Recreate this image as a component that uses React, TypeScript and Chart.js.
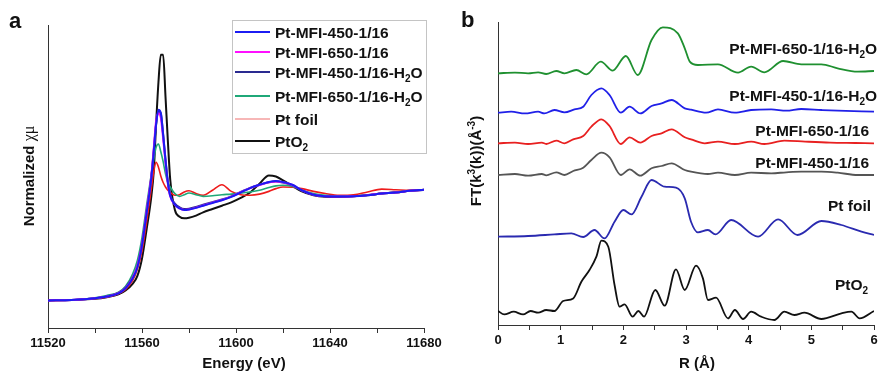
import { useEffect, useRef } from 'react';
import { Chart, registerables } from 'chart.js';
Chart.register(...registerables);

const FONT = '"Liberation Sans", Arial, Helvetica, sans-serif';

// ---------------- Panel a : XANES ----------------
const panelA = 'a';
const titleAx = 'Energy (eV)';
const titleAy = 'Normalized χμ';
const energy = [11520, 11530, 11540, 11545, 11550, 11553, 11556, 11558, 11560, 11562, 11564, 11565, 11566, 11567, 11568, 11569, 11570, 11571, 11572, 11574, 11576, 11578, 11580, 11583, 11586, 11590, 11594, 11598, 11602, 11606, 11610, 11614, 11617, 11620, 11624, 11628, 11633, 11638, 11644, 11650, 11656, 11662, 11668, 11674, 11680];
const xan450 = [0, 0.005, 0.02, 0.035, 0.065, 0.11, 0.2, 0.3, 0.5, 0.8, 1.12, 1.35, 1.6, 1.73, 1.7, 1.5, 1.27, 1.07, 0.95, 0.87, 0.835, 0.82, 0.825, 0.84, 0.86, 0.885, 0.91, 0.94, 0.98, 1.02, 1.05, 1.075, 1.084, 1.075, 1.05, 1.0, 0.96, 0.945, 0.943, 0.945, 0.955, 0.97, 0.98, 0.995, 1.005];
const xan650 = [0, 0.005, 0.02, 0.035, 0.066, 0.112, 0.205, 0.31, 0.51, 0.82, 1.14, 1.38, 1.63, 1.70, 1.66, 1.47, 1.25, 1.06, 0.945, 0.868, 0.835, 0.822, 0.826, 0.842, 0.862, 0.887, 0.912, 0.942, 0.982, 1.02, 1.048, 1.072, 1.08, 1.072, 1.048, 1.0, 0.96, 0.946, 0.944, 0.946, 0.956, 0.97, 0.98, 0.995, 1.004];
const xan450w = [0, 0.005, 0.021, 0.037, 0.068, 0.115, 0.21, 0.31, 0.51, 0.81, 1.13, 1.36, 1.6, 1.72, 1.7, 1.51, 1.28, 1.08, 0.96, 0.88, 0.845, 0.83, 0.833, 0.848, 0.868, 0.892, 0.916, 0.945, 0.984, 1.022, 1.05, 1.073, 1.08, 1.07, 1.045, 0.998, 0.96, 0.946, 0.944, 0.946, 0.956, 0.97, 0.981, 0.995, 1.004];
const xan650w = [0, 0.006, 0.025, 0.045, 0.075, 0.13, 0.24, 0.36, 0.57, 0.87, 1.15, 1.28, 1.39, 1.42, 1.35, 1.26, 1.15, 1.07, 1.03, 0.97, 0.945, 0.96, 0.975, 0.96, 0.945, 0.95, 0.96, 0.965, 0.975, 0.985, 1.0, 1.025, 1.04, 1.045, 1.035, 1.0, 0.97, 0.955, 0.948, 0.948, 0.958, 0.972, 0.983, 0.995, 1.0];
const xanFoil = [0, 0.004, 0.018, 0.032, 0.06, 0.1, 0.18, 0.28, 0.45, 0.72, 1.02, 1.17, 1.255, 1.21, 1.13, 1.07, 1.03, 1.0, 0.98, 0.955, 0.96, 0.985, 0.995, 0.97, 0.955, 1.0, 1.05, 0.99, 0.96, 0.955, 0.965, 0.99, 1.015, 1.03, 1.028, 1.015, 0.99, 0.97, 0.955, 0.96, 0.985, 1.01, 1.005, 1.0, 1.0];
const xanPtO2 = [0, 0.004, 0.015, 0.03, 0.055, 0.09, 0.15, 0.22, 0.38, 0.65, 0.95, 1.17, 1.6, 1.98, 2.23, 2.23, 1.85, 1.45, 1.1, 0.82, 0.76, 0.745, 0.75, 0.77, 0.8, 0.83, 0.86, 0.89, 0.93, 0.98, 1.06, 1.135, 1.125, 1.09, 1.04, 0.99, 0.955, 0.942, 0.94, 0.945, 0.955, 0.97, 0.98, 0.995, 1.005];
const namesA = ['Pt-MFI-450-1/16', 'Pt-MFI-650-1/16', 'Pt-MFI-450-1/16-H₂O', 'Pt-MFI-650-1/16-H₂O', 'Pt foil', 'PtO₂'];
const valuesA = [xan450, xan650, xan450w, xan650w, xanFoil, xanPtO2];
const colorsA = ['#1c1cf2', '#ff10ff', '#2a2a90', '#1fa878', '#ee1c1c', '#111111'];
const legendColorsA = ['#1c1cf2', '#ff10ff', '#2a2a90', '#1fa878', '#f07070', '#111111'];
const widthsA = [2, 2, 2, 1.6, 1.6, 2];
const legendRowY = [32, 52, 72, 96, 119, 141];

// ---------------- Panel b : FT-EXAFS ----------------
const panelB = 'b';
const titleBx = 'R (Å)';
const titleBy = 'FT(k³(k))(Å⁻³)';
const rGreen = [0, 0.27, 0.48, 0.64, 0.77, 0.93, 1.06, 1.25, 1.41, 1.64, 1.83, 2.04, 2.23, 2.45, 2.63, 2.87, 2.98, 3.06, 3.19, 3.51, 3.83, 4.04, 4.25, 4.55, 4.84, 5.16, 5.42, 5.74, 6.0];
const hGreen = [0, 0.07, 0, 0.1, -0.07, 0.23, 0, 0.33, -0.1, 1.17, 0.27, 1.73, -0.17, 3.33, 4.6, 4.0, 2.5, 1.17, 0.83, 0.9, 0.07, 0.67, 0.1, 1.23, 0.9, 0.9, 0.5, 0.17, 0.23];
const rBlue = [0, 0.21, 0.43, 0.64, 0.74, 0.9, 1.06, 1.22, 1.36, 1.49, 1.65, 1.78, 1.96, 2.1, 2.27, 2.45, 2.61, 2.77, 2.98, 3.08, 3.32, 3.51, 3.78, 4.04, 4.36, 4.6, 4.84, 5.16, 5.42, 6.0];
const hBlue = [0, 0.1, -0.07, 0.1, -0.07, 0.27, 0.03, 0.33, 0.6, 1.77, 2.43, 1.77, 0, 0.6, -0.07, 0.67, 0.93, 1.27, 0.43, 0.3, 0, 0.33, 0, 0.27, 0.33, 0.2, 0.37, 0.27, 0.2, 0.1];
const rRed = [0, 0.27, 0.48, 0.7, 0.77, 0.93, 1.06, 1.2, 1.36, 1.49, 1.65, 1.78, 1.96, 2.1, 2.27, 2.45, 2.61, 2.77, 2.98, 3.08, 3.3, 3.51, 3.78, 4.04, 4.25, 4.57, 4.9, 5.3, 5.7, 6.0];
const hRed = [0, 0.07, -0.07, 0.07, -0.07, 0.27, 0, 0.4, 0.73, 1.67, 2.4, 1.73, -0.07, 0.6, 0.07, 0.73, 1.0, 1.4, 0.6, 0.4, 0, 0.17, -0.07, 0.17, -0.07, 0.27, 0.17, 0.07, 0.03, 0];
const rGray = [0, 0.27, 0.48, 0.7, 0.77, 0.93, 1.06, 1.2, 1.36, 1.49, 1.65, 1.78, 1.96, 2.1, 2.27, 2.45, 2.61, 2.77, 2.98, 3.08, 3.35, 3.51, 3.78, 4.04, 4.36, 4.6, 4.84, 5.16, 5.42, 5.74, 6.0];
const hGray = [0, 0.1, -0.07, 0.1, -0.03, 0.27, 0, 0.4, 0.73, 1.5, 2.23, 1.77, 0, 0.57, -0.07, 0.67, 0.9, 1.17, 0.5, 0.33, 0.1, 0.23, 0, 0.23, 0.17, 0.27, 0.33, 0.33, 0.23, 0, 0];
const rFoil = [0, 0.48, 0.9, 1.17, 1.36, 1.54, 1.7, 1.86, 2.0, 2.13, 2.29, 2.45, 2.66, 2.84, 2.98, 3.08, 3.19, 3.35, 3.47, 3.72, 4.15, 4.47, 4.78, 5.16, 5.48, 5.8, 6.0];
const hFoil = [0, 0.07, 0.23, 0.33, -0.03, 0.67, -0.17, 1.5, 2.67, 2.23, 4.0, 5.67, 5.0, 4.9, 3.83, 1.5, 0.43, 0.67, 0.23, 1.67, 0, 1.73, 0.17, 1.57, 1.17, 0.5, 0.17];
const rPtO2 = [0, 0.1, 0.25, 0.4, 0.52, 0.64, 0.77, 0.9, 1.04, 1.2, 1.33, 1.46, 1.57, 1.65, 1.76, 1.86, 1.94, 2.02, 2.15, 2.24, 2.33, 2.51, 2.66, 2.84, 2.98, 3.16, 3.27, 3.35, 3.48, 3.67, 3.78, 3.91, 4.04, 4.2, 4.41, 4.57, 4.73, 4.89, 5.16, 5.48, 5.64, 5.77, 6.0];
const hPtO2 = [0.07, -0.27, 0, -0.27, 0.07, -0.1, 0.17, 0.07, 1.07, 1.33, 3.0, 4.17, 5.5, 7.1, 6.5, 2.67, 0.5, 0.73, -0.5, 0.07, -0.5, 2.17, 0.6, 4.23, 2.17, 4.6, 3.33, 1.17, 1.4, -0.67, 0.17, -0.73, 0, -0.5, -0.83, 0, -0.33, -0.1, -0.73, -0.17, 0, -0.67, 0.07];
const namesB = ['Pt-MFI-650-1/16-H₂O', 'Pt-MFI-450-1/16-H₂O', 'Pt-MFI-650-1/16', 'Pt-MFI-450-1/16', 'Pt foil', 'PtO₂'];
const rB = [rGreen, rBlue, rRed, rGray, rFoil, rPtO2];
const hB = [hGreen, hBlue, hRed, hGray, hFoil, hPtO2];
const offsetsB = [25.17, 21.23, 18.17, 15.0, 8.83, 1.33];
const colorsB = ['#1f9030', '#2020e8', '#e82020', '#555555', '#2a2ab0', '#111111'];
const labelPosB = [[437, 48], [437, 95], [429, 130], [429, 162], [431, 205], [428, 284]];

// ---------------- rich text helpers ----------------
type Seg = { t: string; k: number; font: string; dy: number };
function richSegs(s: string, size: number): Seg[] {
  const subs = '₀₁₂₃₄₅₆₇₈₉';
  const sups = '⁰¹²³⁴⁵⁶⁷⁸⁹⁻';
  const supPlain = '0123456789-';
  const out: Seg[] = [];
  for (const ch of s) {
    let k = 0;
    let c = ch;
    const i = subs.indexOf(ch);
    if (i >= 0) { k = -1; c = String(i); }
    const j = sups.indexOf(ch);
    if (j >= 0) { k = 1; c = supPlain[j]; }
    const code = ch.codePointAt(0) || 0;
    if (code >= 0x370 && code <= 0x3ff) k = 2;
    const last = out[out.length - 1];
    if (last && last.k === k) { last.t += c; continue; }
    let font = `bold ${size}px ${FONT}`;
    let dy = 0;
    if (k === -1) { font = `bold ${Math.round(size * 0.66)}px ${FONT}`; dy = size * 0.3; }
    if (k === 1) { font = `bold ${Math.round(size * 0.66)}px ${FONT}`; dy = -size * 0.42; }
    if (k === 2) { font = `normal ${size + 1}px "Liberation Serif", "DejaVu Serif", serif`; }
    out.push({ t: c, k, font, dy });
  }
  return out;
}
function drawRich(ctx: CanvasRenderingContext2D, s: string, x: number, y: number, size: number, align: 'left' | 'center' | 'right') {
  const segs = richSegs(s, size);
  let w = 0;
  for (const sg of segs) { ctx.font = sg.font; w += ctx.measureText(sg.t).width; }
  let cx = align === 'right' ? x - w : align === 'center' ? x - w / 2 : x;
  ctx.textAlign = 'left';
  ctx.textBaseline = 'alphabetic';
  for (const sg of segs) {
    ctx.font = sg.font;
    ctx.fillText(sg.t, cx, y + sg.dy);
    cx += ctx.measureText(sg.t).width;
  }
}
function drawRotated(ctx: CanvasRenderingContext2D, s: string, cx: number, cy: number, size: number) {
  ctx.save();
  ctx.translate(cx + size * 0.36, cy);
  ctx.rotate(-Math.PI / 2);
  drawRich(ctx, s, 0, 0, size, 'center');
  ctx.restore();
}

const tickFont = { family: FONT, size: 13, weight: 'bold' as const };

export default function App() {
  const refA = useRef<HTMLCanvasElement>(null);
  const refB = useRef<HTMLCanvasElement>(null);

  useEffect(() => {
    const textA = {
      id: 'textA',
      afterDraw(chart: any) {
        const ctx: CanvasRenderingContext2D = chart.ctx;
        ctx.save();
        ctx.fillStyle = '#111';
        ctx.font = `bold 22px ${FONT}`;
        ctx.textAlign = 'left';
        ctx.textBaseline = 'alphabetic';
        ctx.fillText(panelA, 9, 28);
        drawRich(ctx, titleAx, 244, 368, 15, 'center');
        drawRotated(ctx, titleAy, 29, 176, 15);
        // legend
        ctx.fillStyle = '#fff';
        ctx.fillRect(232, 20, 194, 133);
        ctx.strokeStyle = '#c4c4c4';
        ctx.lineWidth = 1;
        ctx.strokeRect(232.5, 20.5, 194, 133);
        namesA.forEach((n, i) => {
          const y = legendRowY[i];
          ctx.strokeStyle = legendColorsA[i];
          ctx.lineWidth = i === 4 ? 1.2 : 2;
          ctx.beginPath();
          ctx.moveTo(235, y);
          ctx.lineTo(270, y);
          ctx.stroke();
          ctx.fillStyle = '#111';
          drawRich(ctx, n, 275, y + 5.6, 15.5, 'left');
        });
        ctx.restore();
      },
    };
    const textB = {
      id: 'textB',
      afterDraw(chart: any) {
        const ctx: CanvasRenderingContext2D = chart.ctx;
        ctx.save();
        ctx.fillStyle = '#111';
        ctx.font = `bold 22px ${FONT}`;
        ctx.textAlign = 'left';
        ctx.textBaseline = 'alphabetic';
        ctx.fillText(panelB, 21, 27);
        drawRich(ctx, titleBx, 257, 368, 15, 'center');
        drawRotated(ctx, titleBy, 36, 161, 15);
        namesB.forEach((n, i) => {
          drawRich(ctx, n, labelPosB[i][0], labelPosB[i][1] + 5.6, 15.5, 'right');
        });
        ctx.restore();
      },
    };

    const chartA = new Chart(refA.current!, {
      type: 'line',
      data: {
        datasets: namesA.map((n, i) => ({
          label: n,
          data: energy.map((e, j) => ({ x: e, y: valuesA[i][j] })),
          borderColor: colorsA[i],
          borderWidth: widthsA[i],
          pointRadius: 0,
          pointHoverRadius: 0,
          fill: false,
          cubicInterpolationMode: 'monotone' as const,
        })),
      },
      options: {
        animation: false,
        responsive: false,
        events: [],
        layout: { padding: { left: 0, top: 25, right: 26, bottom: 0 } },
        plugins: { legend: { display: false }, tooltip: { enabled: false } },
        scales: {
          x: {
            type: 'linear',
            min: 11520,
            max: 11680,
            ticks: {
              stepSize: 20,
              autoSkip: false,
              maxRotation: 0,
              minRotation: 0,
              padding: 3,
              color: '#111',
              font: tickFont,
              callback: (v: any) => (Number(v) % 40 === 0 ? String(v) : ''),
            },
            grid: { drawOnChartArea: false, drawTicks: true, tickLength: 5, color: '#333' },
            border: { color: '#333', width: 1 },
            afterFit: (s: any) => { s.height = 44; s.paddingLeft = 0; s.paddingRight = 0; },
          },
          y: {
            type: 'linear',
            min: -0.25,
            max: 2.5,
            ticks: { display: false },
            grid: { display: false },
            border: { color: '#333', width: 1 },
            afterFit: (s: any) => { s.width = 48; s.paddingTop = 0; s.paddingBottom = 0; },
          },
        },
      },
      plugins: [textA],
    } as any);

    const chartB = new Chart(refB.current!, {
      type: 'line',
      data: {
        datasets: namesB.map((n, i) => ({
          label: n,
          data: rB[i].map((r, j) => ({ x: r, y: offsetsB[i] + hB[i][j] })),
          borderColor: colorsB[i],
          borderWidth: 1.8,
          pointRadius: 0,
          pointHoverRadius: 0,
          fill: false,
          cubicInterpolationMode: 'monotone' as const,
        })),
      },
      options: {
        animation: false,
        responsive: false,
        events: [],
        layout: { padding: { left: 0, top: 22, right: 4, bottom: 0 } },
        plugins: { legend: { display: false }, tooltip: { enabled: false } },
        scales: {
          x: {
            type: 'linear',
            min: 0,
            max: 6,
            ticks: {
              stepSize: 0.5,
              autoSkip: false,
              maxRotation: 0,
              minRotation: 0,
              padding: 3,
              color: '#111',
              font: tickFont,
              callback: (v: any) => (Number.isInteger(Number(v)) ? String(v) : ''),
            },
            grid: { drawOnChartArea: false, drawTicks: true, tickLength: 5, color: '#333' },
            border: { color: '#333', width: 1 },
            afterFit: (s: any) => { s.height = 47; s.paddingLeft = 0; s.paddingRight = 0; },
          },
          y: {
            type: 'linear',
            min: 0,
            max: 30.3,
            ticks: { display: false },
            grid: { display: false },
            border: { color: '#333', width: 1 },
            afterFit: (s: any) => { s.width = 58; s.paddingTop = 0; s.paddingBottom = 0; },
          },
        },
      },
      plugins: [textB],
    } as any);

    return () => {
      chartA.destroy();
      chartB.destroy();
    };
  }, []);

  return (
    <div style={{ position: 'fixed', left: 0, top: 0, width: 878, height: 372, background: '#fff', overflow: 'hidden' }}>
      <canvas ref={refA} width={450} height={372} style={{ position: 'absolute', left: 0, top: 0, width: 450, height: 372 }} />
      <canvas ref={refB} width={438} height={372} style={{ position: 'absolute', left: 440, top: 0, width: 438, height: 372 }} />
    </div>
  );
}
